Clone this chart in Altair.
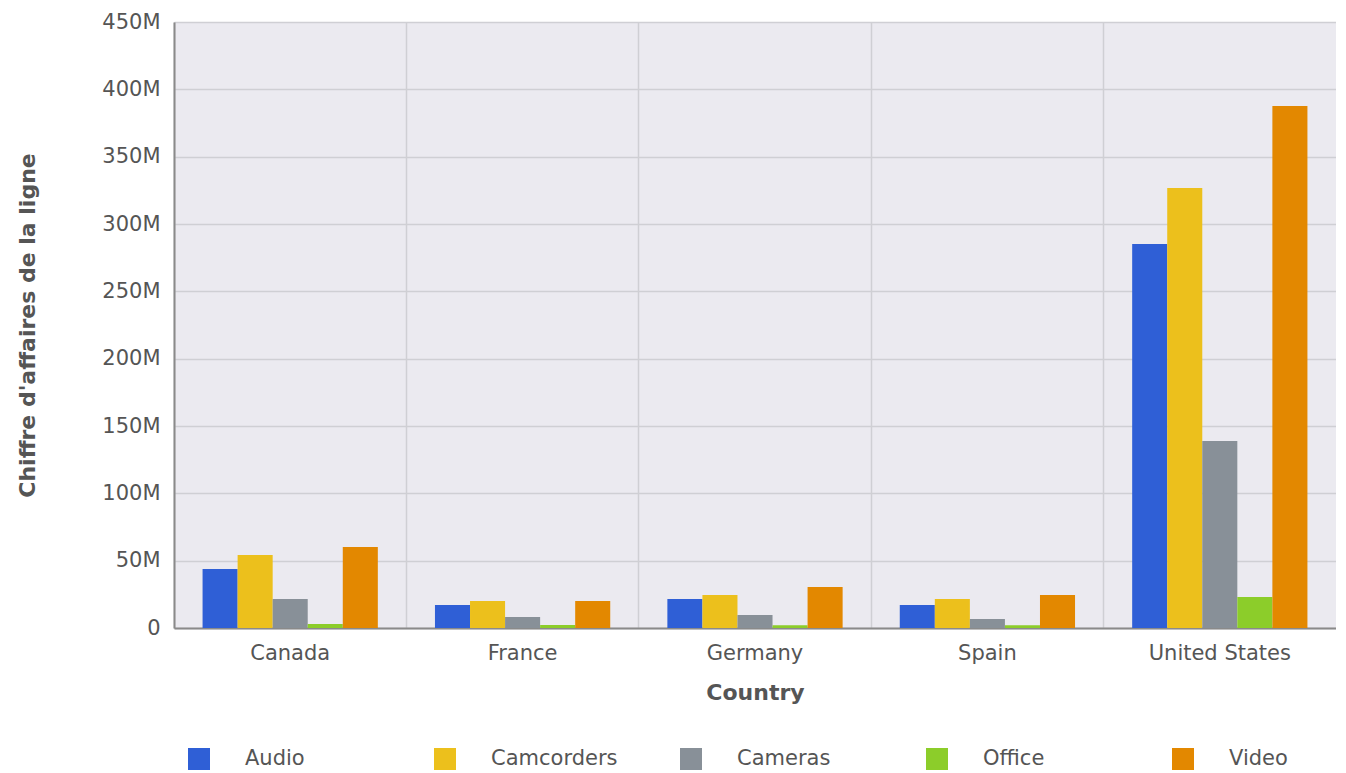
import altair as alt
import pandas as pd

countries = ["Canada", "France", "Germany", "Spain", "United States"]
lines = ["Audio", "Camcorders", "Cameras", "Office", "Video"]
audio = [43.8e6, 17.1e6, 21.5e6, 17.0e6, 285.1e6]
camcorders = [54.2e6, 20.0e6, 24.5e6, 21.5e6, 326.7e6]
cameras = [21.5e6, 8.2e6, 9.7e6, 6.7e6, 138.9e6]
office = [3.0e6, 2.2e6, 2.0e6, 2.0e6, 23.0e6]
video = [60.1e6, 20.0e6, 30.4e6, 24.5e6, 387.6e6]
colors = ["#2f5fd6", "#ecc01c", "#889098", "#8ccd2a", "#e38800"]

series = dict(zip(lines, [audio, camcorders, cameras, office, video]))
rows = []
for ln, vals in series.items():
    for c, v in zip(countries, vals):
        rows.append({"Country": c, "Line": ln, "Revenue": v})
df = pd.DataFrame(rows)

FONT = "DejaVu Sans"
TXT = "#555555"

chart = alt.Chart(df).mark_bar().encode(
    x=alt.X("Country:N", sort=countries,
            scale=alt.Scale(paddingInner=0, paddingOuter=0),
            axis=alt.Axis(title="Country", grid=True, bandPosition=0, labelAngle=0,
                          ticks=False, labelPadding=14, titlePadding=19,
                          domainColor="#8a8a8a", domainWidth=2)),
    xOffset=alt.XOffset("Line:N", sort=lines,
                        scale=alt.Scale(paddingInner=0, paddingOuter=0.815)),
    y=alt.Y("Revenue:Q", scale=alt.Scale(domain=[0, 450e6], nice=False),
            axis=alt.Axis(title="Chiffre d'affaires de la ligne", values=[i * 50e6 for i in range(10)],
                          labelExpr="datum.value == 0 ? '0' : (datum.value / 1000000) + 'M'",
                          ticks=False, labelPadding=14, titlePadding=62,
                          domainColor="#8a8a8a", domainWidth=2)),
    color=alt.Color("Line:N", sort=lines,
                    scale=alt.Scale(domain=lines, range=colors),
                    legend=alt.Legend(title=None, orient="none", legendX=14, legendY=726,
                                      direction="horizontal", columns=5, gridAlign="all",
                                      symbolType="square", symbolSize=484, symbolStrokeWidth=0,
                                      labelOffset=35, columnPadding=62, padding=0,
                                      labelFont=FONT, labelFontSize=21, labelColor=TXT)),
).properties(
    width=1162, height=606,
    padding={"left": 8, "top": 3, "right": 0, "bottom": 0},
).configure_view(
    fill="#ebeaf0", stroke=None
).configure_axis(
    gridColor="#cfcfd4", gridWidth=1.5,
    labelFont=FONT, labelFontSize=21, labelColor=TXT,
    titleFont=FONT, titleFontSize=22, titleColor=TXT, titleFontWeight="bold",
)

chart.save("out.html", embed_options={"renderer": "svg", "actions": False})
